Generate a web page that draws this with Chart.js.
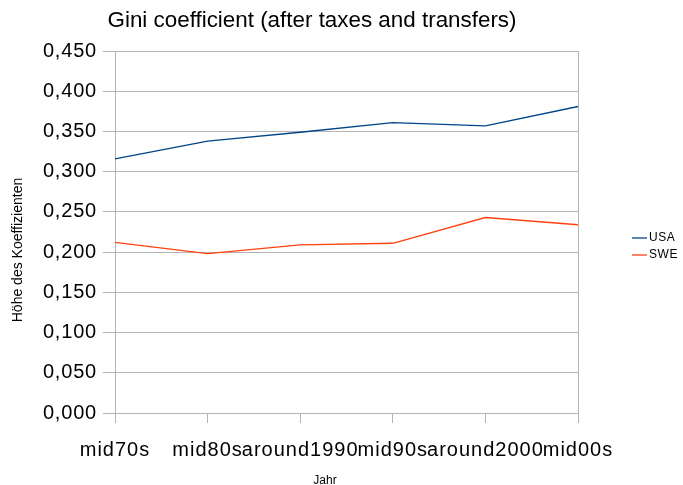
<!DOCTYPE html>
<html>
<head>
<meta charset="utf-8">
<script src="https://cdn.jsdelivr.net/npm/chart.js@4/dist/chart.umd.min.js"></script>
<style>
  html, body { margin: 0; padding: 0; background: #fff; }
  #wrap { width: 683px; height: 485px; }
</style>
</head>
<body>
<div id="wrap"><canvas id="c" width="683" height="485"></canvas></div>
<script>
// data
const categories = ['mid70s', 'mid80s', 'around1990', 'mid90s', 'around2000', 'mid00s'];
const usa = [0.316, 0.338, 0.349, 0.361, 0.357, 0.381];
const swe = [0.212, 0.198, 0.209, 0.211, 0.243, 0.234];
const yTicks = [0, 0.05, 0.1, 0.15, 0.2, 0.25, 0.3, 0.35, 0.4, 0.45];

const FONT = "'Liberation Sans', Arial, sans-serif";
const GRID = '#b3b3b3';

// title, axis titles, x labels, legend and right frame
const extras = {
    id: 'extras',
    beforeDraw(chart) {
        // the original renders its axis numbers a little wider
        chart.ctx.letterSpacing = '0.8px';
    },
    beforeDatasetsDraw(chart) {
        const { ctx, chartArea } = chart;
        ctx.save();
        ctx.strokeStyle = GRID;
        ctx.lineWidth = 1;
        ctx.beginPath();
        ctx.moveTo(Math.round(chartArea.right) + 0.5, chartArea.top);
        ctx.lineTo(Math.round(chartArea.right) + 0.5, chartArea.bottom);
        ctx.stroke();
        ctx.restore();
    },
    afterDraw(chart) {
        const { ctx } = chart;
        const xs = chart.scales.x;
        ctx.save();
        ctx.fillStyle = '#000';

        ctx.letterSpacing = '0px';
        ctx.font = '22.4px ' + FONT;
        ctx.textAlign = 'center';
        ctx.textBaseline = 'alphabetic';
        ctx.fillText('Gini coefficient (after taxes and transfers)', 312, 27);

        ctx.letterSpacing = '1px';
        ctx.font = '20px ' + FONT;
        categories.forEach((c, i) => {
            ctx.fillText(c, xs.getPixelForTick(i), 456);
        });

        ctx.letterSpacing = '0px';
        ctx.font = '12px ' + FONT;
        ctx.fillText('Jahr', 325, 484);

        ctx.save();
        ctx.translate(18, 250);
        ctx.rotate(-Math.PI / 2);
        ctx.font = '14px ' + FONT;
        ctx.textBaseline = 'middle';
        ctx.fillText('Höhe des Koeffizienten', 0, 0);
        ctx.restore();

        // legend
        ctx.font = '12px ' + FONT;
        ctx.letterSpacing = '0.6px';
        ctx.textAlign = 'left';
        ctx.textBaseline = 'middle';
        chart.data.datasets.forEach((ds, i) => {
            const y = 238 + i * 17;
            ctx.strokeStyle = ds.borderColor;
            ctx.lineWidth = 1.3;
            ctx.beginPath();
            ctx.moveTo(632, y);
            ctx.lineTo(647, y);
            ctx.stroke();
            ctx.fillText(ds.label, 649, y);
        });
        ctx.restore();
        ctx.letterSpacing = '0px';
    }
};

new Chart(document.getElementById('c'), {
    type: 'line',
    data: {
        labels: categories,
        datasets: [
            { label: 'USA', data: usa, borderColor: '#004586', borderWidth: 1.3, pointRadius: 0, tension: 0, fill: false },
            { label: 'SWE', data: swe, borderColor: '#ff420e', borderWidth: 1.3, pointRadius: 0, tension: 0, fill: false }
        ]
    },
    options: {
        responsive: false,
        animation: false,
        layout: { padding: { top: 51, right: 105, left: 0, bottom: 0 } },
        plugins: {
            legend: { display: false },
            title: { display: false },
            tooltip: { enabled: false }
        },
        scales: {
            x: {
                type: 'category',
                offset: false,
                grid: { drawOnChartArea: false, drawTicks: true, tickLength: 10, color: GRID },
                border: { color: GRID },
                ticks: { display: false },
                afterFit(scale) { scale.height = 72; }
            },
            y: {
                min: 0,
                max: 0.45,
                afterBuildTicks(scale) { scale.ticks = yTicks.map(v => ({ value: v })); },
                grid: { color: GRID, tickLength: 12, drawTicks: true },
                border: { color: GRID },
                ticks: {
                    color: '#000',
                    padding: 6,
                    font: { family: FONT, size: 20 },
                    callback: v => v.toFixed(3).replace('.', ',')
                },
                afterFit(scale) { scale.width = 115; }
            }
        }
    },
    plugins: [extras]
});
</script>
</body>
</html>
